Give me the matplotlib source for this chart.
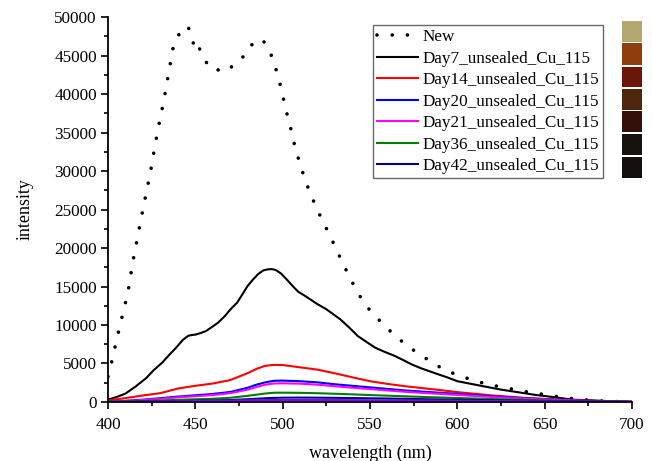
import matplotlib
matplotlib.use("Agg")
import matplotlib.pyplot as plt
from matplotlib.patches import Rectangle
from matplotlib.ticker import MultipleLocator

plt.rcParams['font.family'] = ['Liberation Serif', 'DejaVu Serif']

# "New" spectrum (dotted)
wl_new = [400, 402, 404, 406, 408, 410, 412, 414, 417, 420, 424.6, 426, 427.5, 428.8,
          430.5, 431.7, 433.2, 434.5, 435.9, 437.2, 438.9, 440.8, 443.3, 445.8, 447.5,
          449, 450.5, 452.8, 455.1, 457.4, 460.3, 462.8, 465.4, 468.9, 474.3, 478.4,
          482.4, 488.3, 492.7, 495.6, 498, 500, 501.9, 504.2, 506.1, 508.4, 510.9, 513.8,
          517.2, 522.3, 526.5, 530.3, 534.3, 538.3, 542.7, 547.7, 553.8, 561.1, 568.7,
          576.9, 584.5, 592.2, 600.8, 609, 617.8, 625, 633.1, 641.3, 650.1, 658.7, 667.5,
          680, 690, 700]
new = [3300, 5100, 7100, 9100, 11000, 12900, 15000, 17900, 21500, 25000, 30200, 32100,
       34000, 35750, 37200, 39200, 40560, 42470, 44250, 45900, 47050, 47800, 48440, 48830,
       47600, 46500, 47000, 45670, 44700, 43640, 43640, 43160, 42860, 43250, 44100, 45100,
       46400, 47140, 45550, 43680, 41780, 39830, 37920, 35970, 34030, 32100, 30220, 28270,
       26360, 23770, 21900, 20040, 18090, 16230, 14330, 12510, 10960, 9310, 7790, 6400,
       5310, 4220, 3440, 2830, 2260, 1960, 1610, 1260, 960, 650, 390, 150, 60, 20]

# Day7 spectrum
wl_d7 = [400, 405, 410, 416, 422, 426, 431, 435, 439, 443, 446, 448, 450, 453, 456, 459,
         463, 467, 470, 474, 477, 480, 483, 486, 489, 492, 494, 496, 499, 502, 506, 509,
         512, 516, 520, 525, 529, 533, 538, 543, 548, 553, 558, 564, 569, 574, 579, 584,
         589, 594, 600, 605, 615, 625, 635, 645, 656, 666, 676, 688, 700]
day7 = [300, 650, 1090, 2040, 3130, 4100, 5100, 6100, 7050, 8100, 8600, 8700, 8750, 8950,
        9200, 9660, 10300, 11180, 12000, 12920, 14000, 15090, 15900, 16620, 17100, 17250,
        17250, 17150, 16700, 16000, 15000, 14300, 13900, 13300, 12700, 12050, 11400, 10740,
        9700, 8570, 7800, 7050, 6550, 6000, 5450, 4870, 4400, 4000, 3600, 3220, 2700, 2480,
        2040, 1610, 1260, 910, 610, 300, 220, 100, 30]

# later days, common wavelength grid
wl = [400, 410, 420, 430, 440, 450, 460, 470, 480, 485, 490, 495, 500, 510, 520, 530,
      540, 550, 560, 570, 580, 590, 600, 620, 640, 660, 680, 700]
day14 = [200, 500, 850, 1150, 1750, 2100, 2400, 2850, 3750, 4300, 4700, 4820, 4800, 4500,
         4200, 3720, 3200, 2700, 2350, 2050, 1800, 1550, 1280, 850, 500, 280, 120, 20]
day20 = [50, 150, 300, 500, 700, 870, 1050, 1300, 1850, 2250, 2550, 2750, 2780, 2700,
         2550, 2300, 2100, 1900, 1700, 1500, 1350, 1200, 1050, 750, 480, 280, 120, 20]
day21 = [40, 120, 250, 420, 600, 750, 900, 1150, 1600, 1950, 2250, 2400, 2430, 2380,
         2250, 2050, 1850, 1680, 1500, 1330, 1180, 1050, 920, 650, 420, 240, 100, 15]
day36 = [20, 60, 120, 200, 280, 350, 420, 550, 800, 950, 1100, 1200, 1210, 1190, 1140,
         1070, 990, 900, 820, 740, 660, 590, 520, 380, 250, 150, 70, 10]
day42 = [10, 30, 60, 90, 120, 160, 200, 260, 360, 420, 490, 530, 560, 570, 560, 540, 510,
         480, 450, 410, 370, 330, 300, 230, 160, 100, 50, 10]
extra = [0, 20, 50, 80, 100, 120, 150, 180, 220, 240, 250, 255, 260, 260, 255, 250, 240,
         230, 220, 205, 190, 175, 160, 130, 100, 70, 35, 5]

labels = ['Day7_unsealed_Cu_115', 'Day14_unsealed_Cu_115', 'Day20_unsealed_Cu_115',
          'Day21_unsealed_Cu_115', 'Day36_unsealed_Cu_115', 'Day42_unsealed_Cu_115']
colors = ['black', '#ff0000', '#0000ff', '#ff00ff', '#008000', '#000080']

swatch_colors = ['#b3a871', '#8f3d0c', '#6a1609', '#4f260e', '#34100b', '#16130e', '#140f0e']

fig = plt.figure(figsize=(6.52, 4.61), dpi=100)
ax = fig.add_axes([0.1656, 0.128, 0.8037, 0.835])

ax.plot(wl_new, new, color='black', lw=2.6, linestyle=(0, (0.01, 4.2)),
        dash_capstyle='round', label='New')
ax.plot(wl_d7, day7, color=colors[0], lw=1.5, label=labels[0])
for vals, lab, c in zip([day14, day20, day21, day36, day42], labels[1:], colors[1:]):
    ax.plot(wl, vals, color=c, lw=1.5, label=lab)
ax.plot(wl, extra, color='#8000ff', lw=1.5)

ax.set_xlim(400, 700)
ax.set_ylim(0, 50000)
ax.xaxis.set_major_locator(MultipleLocator(50))
ax.xaxis.set_minor_locator(MultipleLocator(25))
ax.yaxis.set_major_locator(MultipleLocator(5000))
ax.yaxis.set_minor_locator(MultipleLocator(2500))
for s in ['top', 'right']:
    ax.spines[s].set_visible(False)
for s in ['left', 'bottom']:
    ax.spines[s].set_linewidth(1.3)
ax.tick_params(which='major', direction='out', length=5, width=1.2, labelsize=12.3, pad=3)
ax.tick_params(which='minor', direction='out', length=3, width=1.2)
ax.tick_params(axis='x', pad=6)

ax.set_xlabel('wavelength (nm)', fontsize=13, labelpad=8)
ax.set_ylabel('intensity', fontsize=13, labelpad=15)

leg = ax.legend(loc='upper left', bbox_to_anchor=(373 / 652, 1 - 25 / 461),
                bbox_transform=fig.transFigure, fontsize=12.3, frameon=True, fancybox=False,
                edgecolor='#444444', handlelength=2.4, handletextpad=0.25, labelspacing=0.32,
                borderpad=0.25, borderaxespad=0)
leg.get_frame().set_linewidth(1.0)

# sample colour swatches on the right
sw_tops = [20.7, 42.7, 66.7, 89, 111.3, 134, 156.7]
sw_bots = [42, 64.7, 86.7, 110, 132, 155.3, 178]
for c, t, b in zip(swatch_colors, sw_tops, sw_bots):
    fig.patches.append(Rectangle((622 / 652, 1 - b / 461), 20 / 652, (b - t) / 461,
                                 transform=fig.transFigure, facecolor=c, edgecolor='none'))

fig.savefig('out.png', dpi=100)
